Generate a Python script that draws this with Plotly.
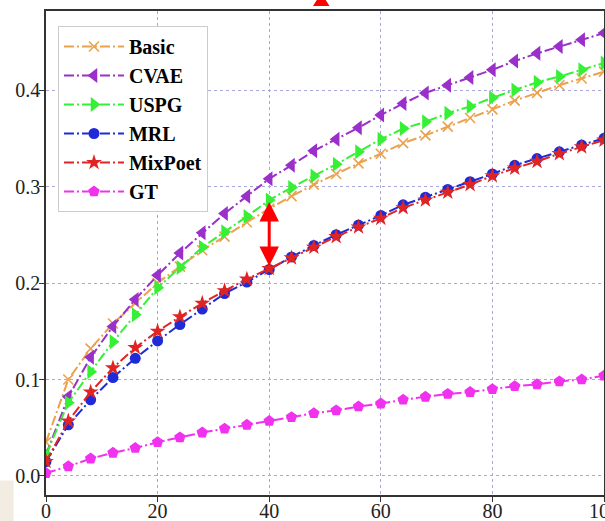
import plotly.graph_objects as go

steps = [0, 4, 8, 12, 16, 20, 24, 28, 32, 36, 40, 44, 48, 52, 56, 60, 64, 68, 72, 76, 80, 84, 88, 92, 96, 100]

basic = [0.035, 0.100, 0.132, 0.158, 0.179, 0.200, 0.217, 0.234, 0.248, 0.263, 0.277, 0.290, 0.302,
         0.313, 0.324, 0.334, 0.345, 0.353, 0.362, 0.371, 0.380, 0.389, 0.397, 0.405, 0.412, 0.419]
cvae = [0.022, 0.082, 0.123, 0.155, 0.183, 0.208, 0.231, 0.252, 0.272, 0.290, 0.308, 0.322, 0.337,
        0.349, 0.361, 0.374, 0.386, 0.397, 0.405, 0.413, 0.421, 0.430, 0.438, 0.445, 0.452, 0.459]
uspg = [0.022, 0.076, 0.108, 0.139, 0.167, 0.195, 0.216, 0.237, 0.253, 0.269, 0.286, 0.299, 0.311,
        0.323, 0.336, 0.349, 0.360, 0.367, 0.376, 0.383, 0.392, 0.400, 0.408, 0.414, 0.421, 0.428]
mrl = [0.015, 0.053, 0.079, 0.102, 0.122, 0.140, 0.157, 0.173, 0.189, 0.201, 0.214, 0.227, 0.239,
       0.250, 0.260, 0.270, 0.281, 0.289, 0.297, 0.305, 0.313, 0.322, 0.329, 0.336, 0.343, 0.350]
mixpoet = [0.015, 0.057, 0.087, 0.112, 0.133, 0.150, 0.165, 0.179, 0.192, 0.204, 0.215, 0.226, 0.237,
           0.248, 0.258, 0.267, 0.278, 0.286, 0.294, 0.302, 0.311, 0.319, 0.326, 0.334, 0.341, 0.348]
gt = [0.003, 0.010, 0.018, 0.024, 0.029, 0.035, 0.040, 0.045, 0.049, 0.053, 0.057, 0.061, 0.065,
      0.068, 0.072, 0.075, 0.079, 0.082, 0.085, 0.087, 0.090, 0.093, 0.095, 0.098, 0.100, 0.104]

x_ticks = [0, 20, 40, 60, 80, 100]
y_ticks = [0.0, 0.1, 0.2, 0.3, 0.4]

series = [
    ("Basic", basic, "#EBA24E", "x-thin", 10),
    ("CVAE", cvae, "#9A2FC9", "triangle-left", 13),
    ("USPG", uspg, "#36F036", "triangle-right", 13),
    ("MRL", mrl, "#1E2BD6", "circle", 11),
    ("MixPoet", mixpoet, "#E02424", "star", 12),
    ("GT", gt, "#F032EE", "pentagon", 12),
]

fig = go.Figure()
for i, (name, vals, col, sym, sz) in enumerate(series):
    if sym == "x-thin":
        marker = dict(symbol=sym, size=sz, color=col, line=dict(color=col, width=1.6))
    else:
        marker = dict(symbol=sym, size=sz, color=col, line=dict(width=0))
    fig.add_trace(go.Scatter(
        x=steps, y=vals, name=name, mode="lines+markers",
        line=dict(color=col, width=2, dash="10px,3px,2px,3px"),
        marker=marker, legendgroup="g%d" % i,
    ))

# double-headed arrow at step 40
fig.add_annotation(x=40, y=uspg[10] - 0.002, ax=40, ay=mrl[10] + 0.002, xref="x", yref="y",
                   axref="x", ayref="y", showarrow=True, arrowhead=2, arrowside="end+start",
                   arrowsize=1.3, arrowwidth=3, arrowcolor="#FF0000", text="")

# cropped red arrow tip at the top edge
fig.add_shape(type="path", xref="paper", yref="paper",
              path="M 0.4785 1.0103 L 0.5081 1.0103 L 0.4933 1.0372 Z",
              fillcolor="#FF0000", line=dict(width=0))
# cropped caption glyph at top right
fig.add_annotation(x=0.9, y=1.019, xref="paper", yref="paper", xanchor="center", yanchor="bottom",
                   text="g", showarrow=False,
                   font=dict(family="Liberation Serif", size=40, color="black"))
# faint mark at bottom left
fig.add_shape(type="rect", xref="paper", yref="paper", x0=-0.0824, x1=-0.058, y0=-0.054, y1=0.03,
              fillcolor="#F3ECE2", line=dict(width=0), layer="below")

axis_common = dict(showline=True, linecolor="#333333", linewidth=1.5, mirror=True,
                   ticks="outside", ticklen=5, tickcolor="#333333",
                   showgrid=True, gridcolor="#A8A8D8", griddash="dot", gridwidth=1,
                   zeroline=False, automargin=False, ticklabeloverflow="allow",
                   tickfont=dict(family="Liberation Serif", size=20, color="#222222"))

fig.update_xaxes(range=[0, 100], tickvals=x_ticks, ticklabelstandoff=-8, **axis_common)
fig.update_yaxes(range=[-0.0197, 0.4819], tickvals=y_ticks, tickformat=".1f",
                 ticklabelstandoff=-5, **axis_common)

fig.update_layout(
    width=605, height=521,
    margin=dict(l=46, r=1, t=11, b=26),
    paper_bgcolor="white", plot_bgcolor="white",
    showlegend=True,
    legend=dict(x=0.0215, y=0.969, xanchor="left", yanchor="top",
                bgcolor="white", bordercolor="#CCCCCC", borderwidth=1,
                tracegroupgap=0, itemwidth=60,
                font=dict(family="Liberation Serif", size=20, color="black", weight="bold")),
)

fig.write_html("out.html", config={"displayModeBar": False},
               post_script="document.body.style.margin='0';document.body.style.padding='0';")
